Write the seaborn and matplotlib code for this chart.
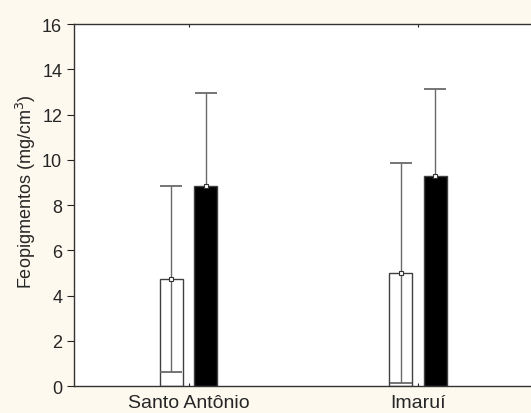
import pandas as pd
import matplotlib
matplotlib.use("Agg")
from matplotlib import pyplot as plt
import seaborn as sns

locais = ["Santo Antônio", "Imaruí"]
grupos = ["A", "B"]
medias_a = [4.73, 5.00]
dp_a = [4.10, 4.87]
medias_b = [8.85, 9.29]
dp_b = [4.10, 3.85]

df = pd.DataFrame({
    "local": locais * 2,
    "grupo": [grupos[0]] * 2 + [grupos[1]] * 2,
    "valor": medias_a + medias_b,
    "dp": dp_a + dp_b,
})

sns.set_style("ticks")
plt.rcParams["font.family"] = ["Liberation Sans", "DejaVu Sans"]

fundo = "#fdf9ee"
fig = plt.figure(figsize=(5.31, 4.14), dpi=100, facecolor=fundo)
ax = fig.add_axes([0.1394, 0.0652, 0.8636, 0.8744])
ax.set_facecolor("white")

sns.barplot(data=df, x="local", y="valor", hue="grupo", order=locais, hue_order=grupos,
            palette=["white", "black"], width=0.3, gap=0.33, errorbar=None,
            edgecolor="#404040", linewidth=1, legend=False, ax=ax, zorder=1)

# barras de erro (média ± DP); na barra branca o erro inferior fica visível
for p in ax.patches:
    h = p.get_height()
    if h <= 0:
        continue
    x = p.get_x() + p.get_width() / 2
    linha = df[(df["valor"] - h).abs() < 1e-6].iloc[0]
    branca = p.get_facecolor()[0] > 0.5
    ax.errorbar(x, h, yerr=linha["dp"], fmt="none", ecolor="#6a6a6a",
                elinewidth=1, capsize=8, capthick=1.3, zorder=2 if branca else 0.5)
    ax.plot(x, h, marker="s", ms=3.5, mfc="white", mec="#333333", mew=0.8, zorder=3)

ax.set_xlim(-0.5, 1.5)
ax.set_ylim(0, 16)
ax.set_yticks(range(0, 17, 2))
ax.set_xlabel("")
ax.set_ylabel("Feopigmentos (mg/cm$^3$)", fontsize=13)
ax.yaxis.set_label_coords(-0.078, 0.54)
ax.tick_params(axis="y", labelsize=13, length=5, width=0.8, color="#222222")
ax.tick_params(axis="x", labelsize=14, length=2, direction="in", top=True, pad=6)
for s in ax.spines.values():
    s.set_color("#333333")
    s.set_linewidth(1)

fig.savefig("out.png", dpi=100, facecolor=fundo)
